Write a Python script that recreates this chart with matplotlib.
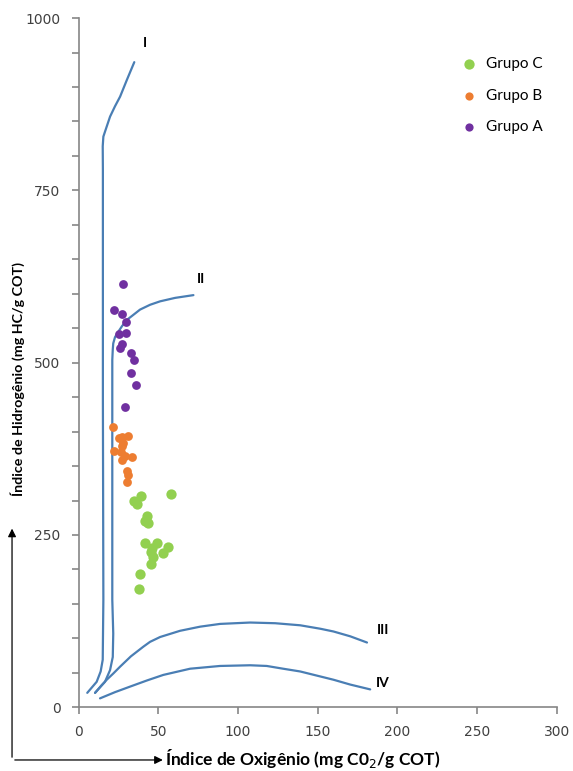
"""Van Krevelen-type diagram: HI vs OI with kerogen type curves."""

import matplotlib
matplotlib.use("Agg")
import matplotlib.pyplot as plt
from matplotlib.patches import FancyArrowPatch

# kerogen type curves (OI, HI)
curve_i_x = [5.5, 11.4, 13.9, 15.2, 15.6, 15.3, 15.3, 15.2, 15.6, 16.6, 19.8, 22.9, 26.1, 30.3, 35.0]
curve_i_y = [21, 37, 52, 69, 156, 446, 780, 814, 828, 835, 857, 872, 886, 910, 936]
curve_ii_x = [10.4, 16.6, 19.8, 21.5, 21.8, 21.2, 21.2, 21.5, 21.8, 22.9, 25.0, 27.3, 30.3,
              34.2, 38.6, 44.9, 51.2, 60.6, 72.1]
curve_ii_y = [21, 37, 54, 73, 107, 156, 504, 519, 528, 537, 545, 553, 562,
              569, 577, 584, 589, 594, 598]
curve_iii_x = [10.4, 14.1, 17.7, 21.8, 26.1, 32.9, 40.7, 44.9, 51.2, 63.7, 76.3, 88.8,
               107.7, 123.4, 139.1, 151.7, 160, 170.5, 181]
curve_iii_y = [21, 31, 40, 49, 59, 74, 88, 95, 102, 111, 117, 121,
               123, 122, 119, 114, 110, 103, 94]
curve_iv_x = [13.5, 22.9, 32.3, 43.0, 53.2, 70.0, 88.8, 107.7, 118.1, 128.4, 139.1, 160,
              170.5, 183]
curve_iv_y = [13, 22, 30, 39, 47, 56, 60, 61, 60, 56, 52, 40, 33, 26]

# samples
grupo_a_oi = [28.1, 22.1, 27.3, 30.0, 25.2, 30.0, 27.1, 26.1, 33.1, 35.0, 33.0, 36.3, 29.2]
grupo_a_hi = [614, 577, 571, 559, 541, 543, 527, 522, 514, 504, 485, 468, 435]
grupo_b_oi = [21.6, 25.7, 27.3, 31.3, 27.7, 27.1, 22.1, 26.5, 29.2, 33.4, 27.1, 30.3, 31.3, 30.3]
grupo_b_hi = [406, 391, 392, 394, 384, 379, 372, 371, 365, 363, 359, 343, 337, 327]
grupo_c_oi = [35.0, 39.0, 36.9, 58.1, 42.8, 41.6, 43.4, 41.9, 49.1, 56.0, 45.7, 53.2,
              46.6, 45.7, 38.8, 37.8, 46.4]
grupo_c_hi = [300, 306, 295, 310, 278, 271, 267, 238, 238, 233, 226, 224,
              218, 208, 193, 172, 231]

curve_labels = ["I", "II", "III", "IV"]
label_pos = [(41.8, 964), (77, 621), (191, 112), (191, 35)]

LINE = "#4a7eb4"
AXIS = "#868686"

fig = plt.figure(figsize=(5.73, 7.71), dpi=100)
ax = fig.add_axes([0.137, 0.0826, 0.8345, 0.894])

for xs, ys in [(curve_i_x, curve_i_y), (curve_ii_x, curve_ii_y),
               (curve_iii_x, curve_iii_y), (curve_iv_x, curve_iv_y)]:
    ax.plot(xs, ys, color=LINE, lw=1.6, solid_capstyle="round", solid_joinstyle="round")

ax.scatter(grupo_c_oi, grupo_c_hi, s=55, color="#92d050", label="Grupo C", zorder=3, lw=0)
ax.scatter(grupo_b_oi, grupo_b_hi, s=40, color="#ed7d31", label="Grupo B", zorder=3, lw=0)
ax.scatter(grupo_a_oi, grupo_a_hi, s=40, color="#7030a0", label="Grupo A", zorder=3, lw=0)

for txt, (lx, ly) in zip(curve_labels, label_pos):
    ax.text(lx, ly, txt, fontsize=10, fontweight="bold", family="Lato",
            ha="center", va="center")

ax.set_xlim(0, 300)
ax.set_ylim(0, 1000)
ax.set_xticks(range(0, 301, 50))
ax.set_yticks(range(0, 1001, 250))
ax.set_yticks(range(0, 1001, 50), minor=True)
for s in ["top", "right"]:
    ax.spines[s].set_visible(False)
for s in ["left", "bottom"]:
    ax.spines[s].set_color(AXIS)
    ax.spines[s].set_linewidth(1.2)
ax.tick_params(which="both", color=AXIS, width=1.2, length=5, labelsize=10,
               labelcolor="#404040")
ax.tick_params(axis="x", pad=8)
ax.tick_params(axis="y", pad=8)

leg = ax.legend(loc="upper right", bbox_to_anchor=(1.0, 0.963), frameon=False,
                handletextpad=0.1, labelspacing=1.15,
                prop={"family": "Lato", "size": 11})
for h, sz in zip(leg.legend_handles, [55, 35, 35]):
    h.set_sizes([sz])

fig.text(0.528, 0.0166, "Índice de Oxigênio (mg C0$_2$/g COT)", ha="center", va="center",
         fontsize=12.5, fontweight="bold", family="Lato")
fig.text(0.031, 0.508, "Índice de Hidrogênio (mg HC/g COT)", ha="center", va="center",
         rotation=90, fontsize=10.3, fontweight="bold", family="Lato")

# corner arrows
arr_kw = dict(arrowstyle="-|>", mutation_scale=12, color="black", lw=0.9,
              transform=fig.transFigure)
fig.patches.append(FancyArrowPatch((0.021, 0.0143), (0.021, 0.318), **arr_kw))
fig.patches.append(FancyArrowPatch((0.021, 0.0143), (0.289, 0.0143), **arr_kw))

plt.savefig("out.png", dpi=100)
